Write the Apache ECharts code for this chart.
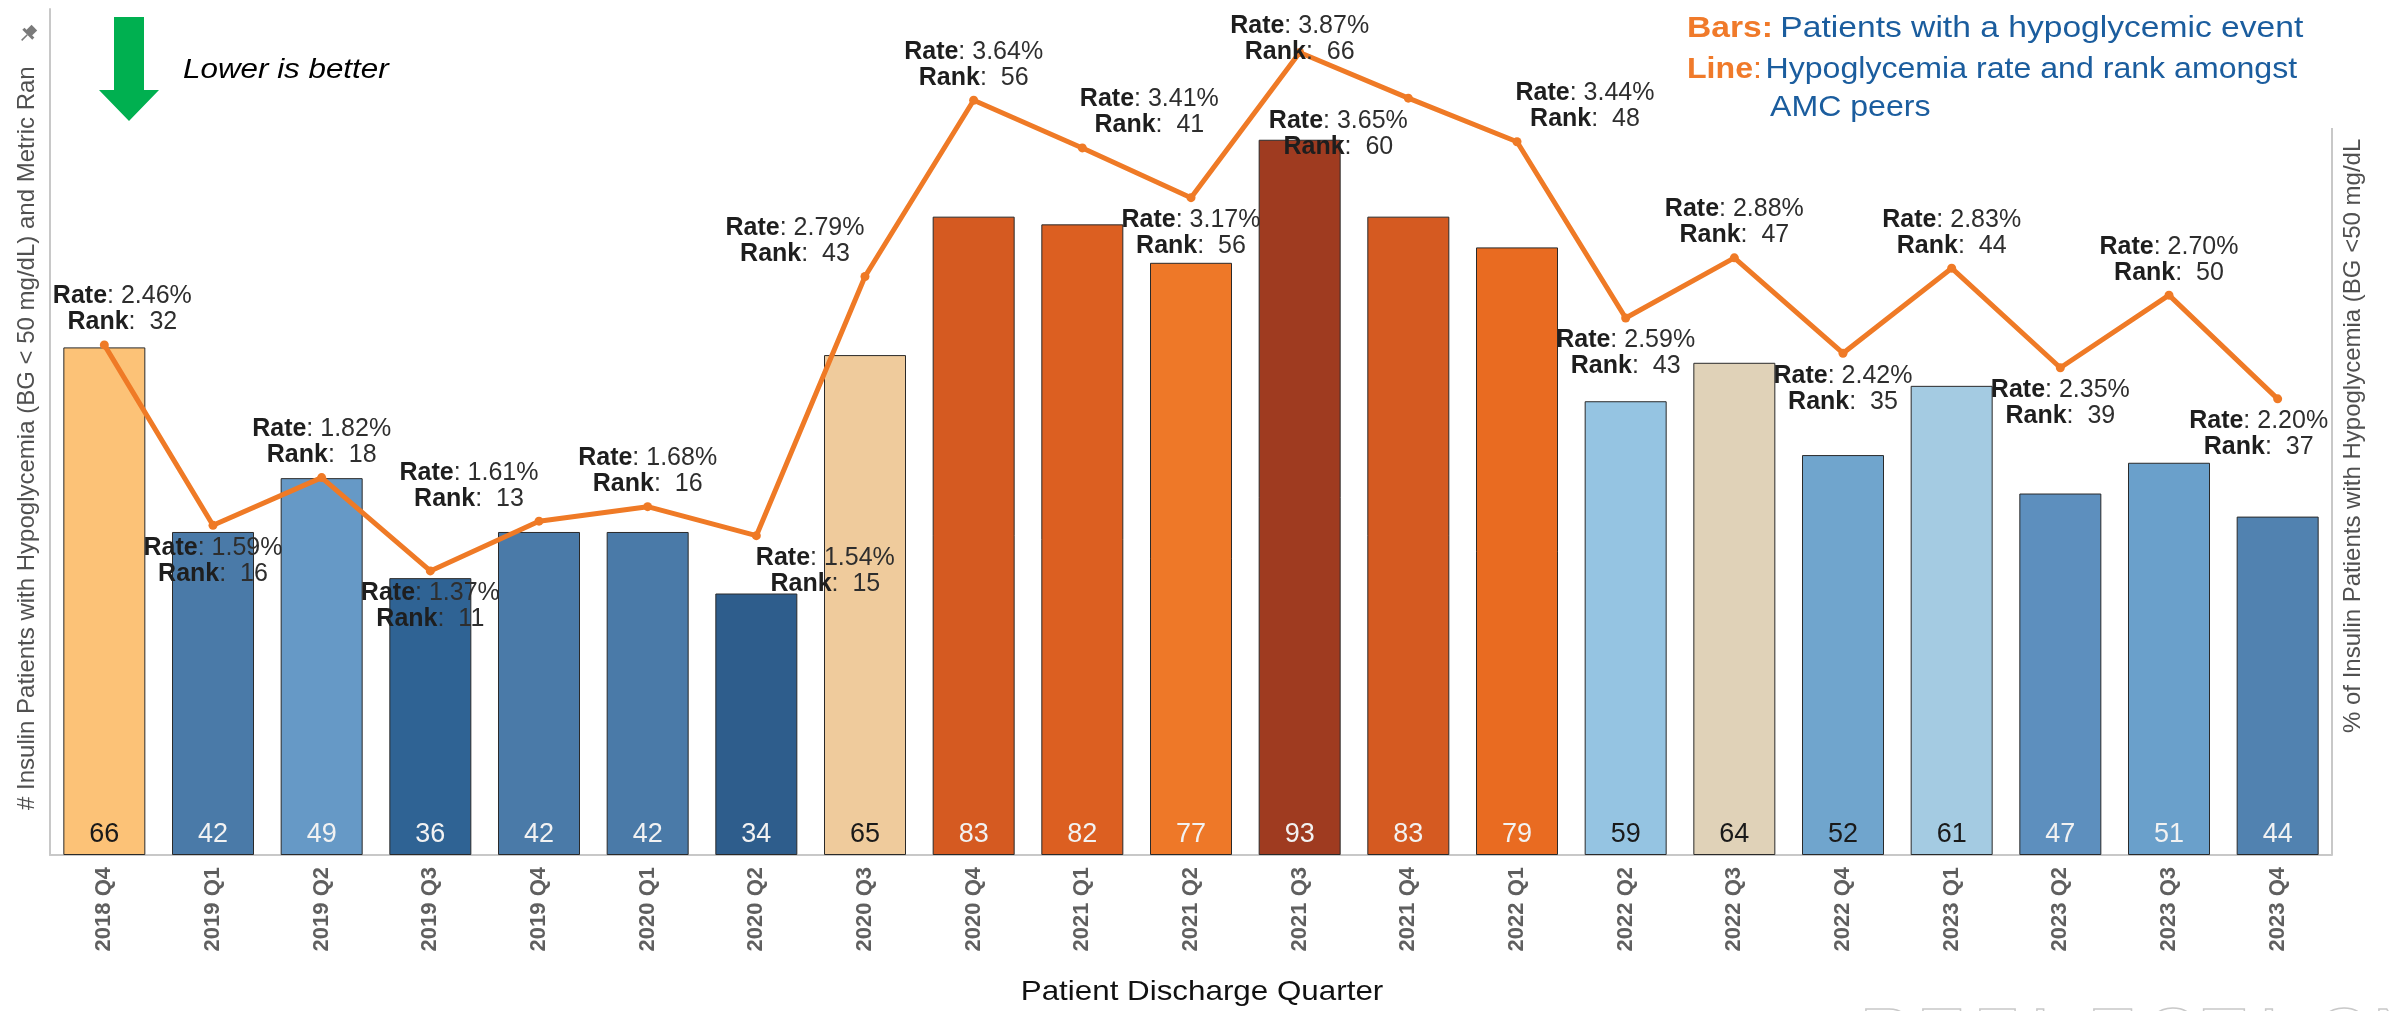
<!DOCTYPE html>
<html>
<head>
<meta charset="utf-8">
<script src="https://cdn.jsdelivr.net/npm/echarts@6/dist/echarts.min.js"></script>
<style>
  html, body { margin: 0; padding: 0; background: #ffffff; }
  #chart { width: 2394px; height: 1011px; }
</style>
</head>
<body>
<div id="chart"></div>
<script>
// Quarterly hypoglycemia data
const categories = ['2018 Q4', '2019 Q1', '2019 Q2', '2019 Q3', '2019 Q4', '2020 Q1', '2020 Q2',
  '2020 Q3', '2020 Q4', '2021 Q1', '2021 Q2', '2021 Q3', '2021 Q4', '2022 Q1', '2022 Q2',
  '2022 Q3', '2022 Q4', '2023 Q1', '2023 Q2', '2023 Q3', '2023 Q4'];
const patients = [66, 42, 49, 36, 42, 42, 34, 65, 83, 82, 77, 93, 83, 79, 59, 64, 52, 61, 47, 51, 44];
const rates = [2.46, 1.59, 1.82, 1.37, 1.61, 1.68, 1.54, 2.79, 3.64, 3.41, 3.17, 3.87, 3.65, 3.44,
  2.59, 2.88, 2.42, 2.83, 2.35, 2.70, 2.20];
const ranks = [32, 16, 18, 11, 13, 16, 15, 43, 56, 41, 56, 66, 60, 48, 43, 47, 35, 44, 39, 50, 37];

// Bar fill per quarter (diverging orange/blue palette)
const barColors = ['#fcc277', '#4a7aa8', '#6699c6', '#2f6394', '#4a7aa8', '#4a7aa8', '#2e5d8c',
  '#efcb9c', '#d55a21', '#dc5f21', '#ee7828', '#9f3b20', '#d55a21', '#e96b21', '#95c4e2',
  '#e0d2b8', '#70a5cd', '#a4cbe2', '#5d8fbe', '#6aa0cb', '#5182b0'];

// Where each rate/rank label sits relative to its point
const labelSpots = ['top', 'bottom', 'top', 'bottom', 'top', 'top', 'bottom', 'top', 'top', 'top',
  'bottom', 'top', 'bottom', 'top', 'bottom', 'top', 'bottom', 'top', 'bottom', 'top', 'bottom'];
const labelShiftX = [18, 0, 0, 0, -70, 0, 69, -70, 0, 67, 0, 0, -70, 68, 0, 0, 0, 0, 0, 0, -19];
const labelShiftY = [0, 0, 0, 0, 0, 0, 0, 0, 0, 0, 0, 22, 0, 0, 0, 0, 0, 0, 0, 0, 0];

const FONT = 'Liberation Sans, Arial, sans-serif';

function luminance(hex) {
  const r = parseInt(hex.slice(1, 3), 16), g = parseInt(hex.slice(3, 5), 16), b = parseInt(hex.slice(5, 7), 16);
  return 0.2126 * r + 0.7152 * g + 0.0722 * b;
}

const barData = patients.map((v, i) => ({
  value: v,
  itemStyle: { color: barColors[i] },
  label: { color: luminance(barColors[i]) > 154 ? '#1a1a1a' : '#f2f2f2' }
}));

const lineData = rates.map((v, i) => ({
  value: v,
  label: { position: labelSpots[i], offset: [labelShiftX[i], labelShiftY[i]] }
}));

const chart = echarts.init(document.getElementById('chart'), null, { renderer: 'canvas' });

// Watermark letters along the bottom edge
const watermark = 'REFLECTION'.split('').map((ch, i) => ({
  type: 'text', x: 1860 + i * 57, y: 1003, z: 0,
  style: { text: ch, font: '72px ' + FONT, fill: 'transparent', stroke: '#c9c9c9', lineWidth: 1.5,
    textAlign: 'left', textVerticalAlign: 'top' }
}));

chart.setOption({
  backgroundColor: '#ffffff',
  animation: false,
  grid: { left: 50, right: 62, top: 9, bottom: 156, containLabel: false, outerBoundsMode: 'none' },
  xAxis: {
    type: 'category',
    data: categories,
    axisLine: { show: true, lineStyle: { color: '#c8c8c8', width: 2 } },
    axisTick: { show: false },
    axisLabel: { rotate: 90, margin: 12, color: '#5f5f5f', fontWeight: 'bold', fontSize: 22, fontFamily: FONT }
  },
  yAxis: [
    {
      type: 'value', min: 0, max: 110,
      axisLine: { show: true, lineStyle: { color: '#c8c8c8', width: 2 } },
      axisTick: { show: false }, axisLabel: { show: false }, splitLine: { show: false }
    },
    {
      type: 'value', min: 0, max: 4.08,
      axisLine: { show: false }, axisTick: { show: false }, axisLabel: { show: false }, splitLine: { show: false }
    }
  ],
  series: [
    {
      type: 'bar',
      data: barData,
      barWidth: 82,
      itemStyle: { borderColor: '#2a2a2a', borderWidth: 1 },
      label: {
        show: true, position: 'insideBottom', distance: 7,
        fontSize: 27, fontFamily: FONT
      },
      z: 2
    },
    {
      type: 'line',
      yAxisIndex: 1,
      data: lineData,
      symbol: 'circle',
      symbolSize: 9,
      lineStyle: { color: '#ef7a26', width: 5 },
      itemStyle: { color: '#ef7a26' },
      z: 5,
      label: {
        show: true,
        distance: 5,
        fontFamily: FONT,
        formatter: p => '{b|Rate}{r|: ' + rates[p.dataIndex].toFixed(2) + '%}\n{b|Rank}{r|:  ' + ranks[p.dataIndex] + '}',
        rich: {
          b: { fontWeight: 'bold', fontSize: 25, color: '#1e1e1e', lineHeight: 26, fontFamily: FONT },
          r: { fontSize: 25, color: '#2e2e2e', lineHeight: 26, fontFamily: FONT }
        }
      }
    }
  ],
  graphic: [
    // pin icon
    {
      type: 'group', x: 28, y: 34, rotation: -Math.PI / 4,
      children: [
        { type: 'rect', shape: { x: -4, y: -9, width: 8, height: 8 }, style: { fill: '#7a7a7a' } },
        { type: 'rect', shape: { x: -7, y: -2, width: 14, height: 3 }, style: { fill: '#7a7a7a' } },
        { type: 'line', shape: { x1: 0, y1: 1, x2: 0, y2: 9 }, style: { stroke: '#7a7a7a', lineWidth: 1.5 } }
      ]
    },
    // green arrow
    {
      type: 'polygon',
      shape: { points: [[114, 17], [144, 17], [144, 90], [159, 90], [129, 121], [99, 90], [114, 90]] },
      style: { fill: '#00b050' }
    },
    {
      type: 'text', x: 183, y: 70,
      style: { text: 'Lower is better', font: 'italic 28px ' + FONT, fill: '#000', textVerticalAlign: 'middle' },
      scaleX: 1.12
    },
    // x axis title
    {
      type: 'text', x: 1202, y: 992, scaleX: 1.12,
      style: { text: 'Patient Discharge Quarter', font: '28px ' + FONT, fill: '#111',
        textAlign: 'center', textVerticalAlign: 'middle' }
    },
    // left axis title
    {
      type: 'text', x: 27, y: 810, rotation: Math.PI / 2,
      style: { text: '# Insulin Patients with Hypoglycemia (BG < 50 mg/dL) and Metric Ran',
        font: '24px ' + FONT, fill: '#505050', textAlign: 'left', textVerticalAlign: 'middle' }
    },
    // right axis line and title
    {
      type: 'line', shape: { x1: 2332, y1: 128, x2: 2332, y2: 855 },
      style: { stroke: '#c8c8c8', lineWidth: 2 }
    },
    {
      type: 'text', x: 2353, y: 733, rotation: Math.PI / 2,
      style: { text: '% of Insulin Patients with Hypoglycemia (BG <50 mg/dL',
        font: '24px ' + FONT, fill: '#505050', textAlign: 'left', textVerticalAlign: 'middle' }
    },
    // key text
    {
      type: 'text', x: 1687, y: 29, scaleX: 1.12,
      style: {
        text: '{o|Bars:}  {bl|Patients with a hypoglycemic event}',
        textVerticalAlign: 'middle',
        rich: {
          o: { fontWeight: 'bold', fontSize: 30, fill: '#f07a2a', fontFamily: FONT },
          bl: { fontSize: 30, fill: '#1b5d9e', fontFamily: FONT }
        }
      }
    },
    {
      type: 'text', x: 1687, y: 70, scaleX: 1.07,
      style: {
        text: '{o|Line}{oc|:} {bl|Hypoglycemia rate and rank amongst}',
        textVerticalAlign: 'middle',
        rich: {
          o: { fontWeight: 'bold', fontSize: 30, fill: '#f07a2a', fontFamily: FONT },
          oc: { fontSize: 30, fill: '#f07a2a', fontFamily: FONT },
          bl: { fontSize: 30, fill: '#1b5d9e', fontFamily: FONT }
        }
      }
    },
    {
      type: 'text', x: 1770, y: 108, scaleX: 1.07,
      style: { text: 'AMC peers', font: '30px ' + FONT, fill: '#1b5d9e', textVerticalAlign: 'middle' }
    }
  ].concat(watermark)
});
</script>
</body>
</html>
